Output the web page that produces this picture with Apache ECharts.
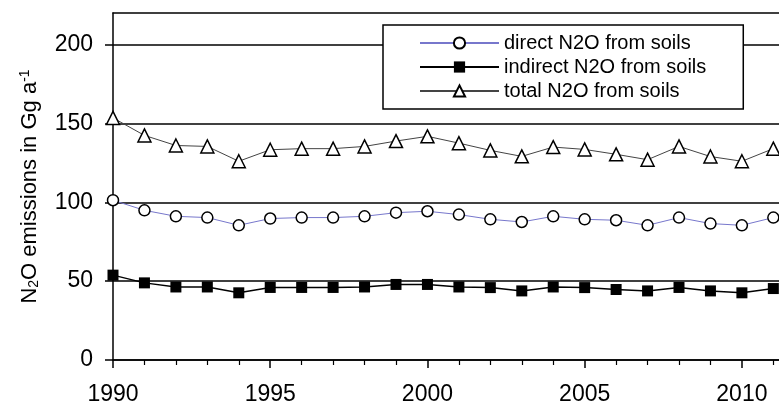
<!DOCTYPE html>
<html>
<head>
<meta charset="utf-8">
<script src="https://cdn.jsdelivr.net/npm/echarts@6/dist/echarts.min.js"></script>
<style>html,body{margin:0;padding:0;background:#fff}#c{width:779px;height:408px}</style>
</head>
<body>
<div id="c"></div>
<script>
const years = [1990,1991,1992,1993,1994,1995,1996,1997,1998,1999,2000,2001,2002,2003,2004,2005,2006,2007,2008,2009,2010,2011];
const direct = [101.3,94.9,91.1,90.3,85.4,89.7,90.3,90.3,91.1,93.4,94.3,92.2,89.2,87.5,91.1,89.2,88.6,85.4,90.3,86.5,85.4,90.3];
const indirect = [53.8,48.9,46.3,46.3,42.6,46.0,46.0,46.0,46.3,47.9,47.9,46.3,45.9,43.8,46.3,45.9,44.7,43.8,46.0,43.8,42.6,45.3];
const total = [153.5,142.4,136.0,135.4,126.0,133.3,134.0,134.0,135.4,138.8,141.8,137.5,132.9,129.1,135.0,133.5,130.4,127.0,135.4,129.0,126.0,134.0];
const yTicks = [0,50,100,150,200];
const xTicks = [1990,1995,2000,2005,2010];
const seriesNames = ['direct N2O from soils','indirect N2O from soils','total N2O from soils'];

const FONT = 'Liberation Sans, Arial, sans-serif';
const pair = arr => years.map((y,i)=>[y,arr[i]]);

const chart = echarts.init(document.getElementById('c'), null, {renderer:'canvas'});
chart.setOption({
  animation:false,
  backgroundColor:'#fff',
  textStyle:{fontFamily:FONT,color:'#000'},
  grid:{left:113,top:13,bottom:48,right:0,show:false},
  legend:{
    orient:'vertical', left:383, top:25,
    backgroundColor:'#fff', borderColor:'#000', borderWidth:1.5,
    padding:[6,37,6,36], itemGap:0,
    itemWidth:79, itemHeight:14,
    textStyle:{fontFamily:FONT,fontSize:20,color:'#000',lineHeight:24},
    data:seriesNames
  },
  xAxis:[{
    type:'value', min:1990, max:2011.18, interval:5,
    axisLine:{lineStyle:{color:'#000',width:1.5}},
    axisTick:{show:true,length:8,customValues:xTicks,lineStyle:{color:'#000',width:1.5}},
    minorTick:{show:true,splitNumber:5,length:5,lineStyle:{color:'#000',width:1.2}},
    splitLine:{show:false},
    axisLabel:{fontFamily:FONT,fontSize:23,color:'#000',margin:23,customValues:xTicks,formatter:v=>String(Math.round(v))}
  },{
    type:'value', position:'top', min:1990, max:2011.18,
    axisLine:{show:true,lineStyle:{color:'#000',width:1.5}},
    axisTick:{show:false}, axisLabel:{show:false}, splitLine:{show:false}
  }],
  yAxis:{
    type:'value', min:0, max:220, interval:50,
    axisLine:{show:true,lineStyle:{color:'#000',width:1.5}},
    axisTick:{show:true,length:8,customValues:yTicks,lineStyle:{color:'#000',width:1.5}},
    axisLabel:{fontFamily:FONT,fontSize:23,color:'#000',margin:20,customValues:yTicks},
    splitLine:{show:true,lineStyle:{color:'#000',width:1.5}},
    name:'N{sub|2}O emissions in Gg a{sup|-1}',
    nameLocation:'middle', nameGap:72,
    nameTextStyle:{fontFamily:FONT,fontSize:22,color:'#000',
      rich:{sub:{fontFamily:FONT,fontSize:14,color:'#000',padding:[9,0,0,0]},
            sup:{fontFamily:FONT,fontSize:14,color:'#000',padding:[0,0,9,0]}}}
  },
  series:[
    {name:seriesNames[0],type:'line',data:pair(direct),symbol:'circle',symbolSize:11,
     lineStyle:{color:'#7777cc',width:1},itemStyle:{color:'#fff',borderColor:'#000',borderWidth:1.5},z:3},
    {name:seriesNames[1],type:'line',data:pair(indirect),symbol:'rect',symbolSize:11,
     lineStyle:{color:'#000',width:1.5},itemStyle:{color:'#000',borderColor:'#000',borderWidth:0},z:3},
    {name:seriesNames[2],type:'line',data:pair(total),symbol:'triangle',symbolSize:13,
     lineStyle:{color:'#444',width:1},itemStyle:{color:'#fff',borderColor:'#000',borderWidth:1.5},z:3}
  ]
});
</script>
</body>
</html>
